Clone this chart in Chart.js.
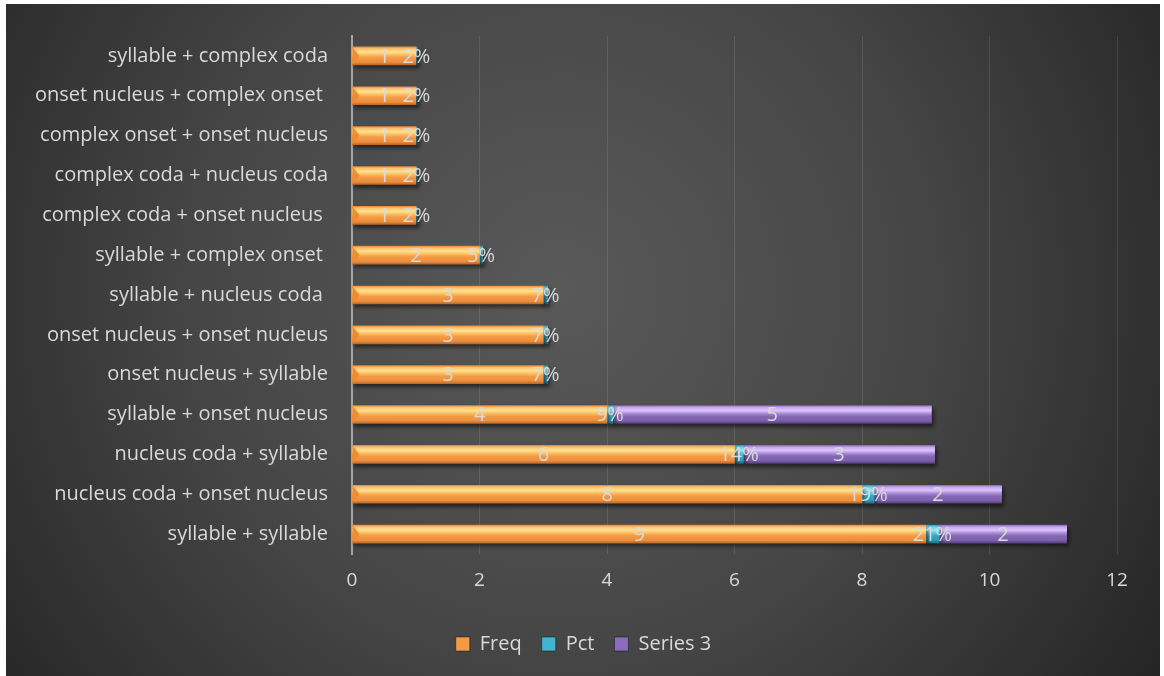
<!DOCTYPE html>
<html>
<head>
<meta charset="utf-8">
<script src="https://cdn.jsdelivr.net/npm/chart.js@4.4.1/dist/chart.umd.min.js"></script>
<style>
  html, body { margin: 0; padding: 0; background: #ffffff; }
  canvas { display: block; }
</style>
</head>
<body>
<canvas id="chart" width="1164" height="676"></canvas>
<script>
// data, top row first
const categories = [
  "syllable + complex coda",
  "onset nucleus + complex onset ",
  "complex onset + onset nucleus",
  "complex coda + nucleus coda",
  "complex coda + onset nucleus ",
  "syllable + complex onset ",
  "syllable + nucleus coda ",
  "onset nucleus + onset nucleus",
  "onset nucleus + syllable",
  "syllable + onset nucleus",
  "nucleus coda + syllable",
  "nucleus coda + onset nucleus",
  "syllable + syllable"
];
const freq = [1, 1, 1, 1, 1, 2, 3, 3, 3, 4, 6, 8, 9];
const pct = [0.02, 0.02, 0.02, 0.02, 0.02, 0.05, 0.07, 0.07, 0.07, 0.09, 0.14, 0.19, 0.21];
const series3 = [null, null, null, null, null, null, null, null, null, 5, 3, 2, 2];
const xTicks = [0, 2, 4, 6, 8, 10, 12];

const FONT = '"Open Sans", Lato, sans-serif';
const TEXT = "#d9d9d9";
const BAR_H = 18;

Chart.defaults.font.family = FONT;
Chart.defaults.color = TEXT;

// vertical gradient for the bevelled look of each bar
function bevel(stops) {
  return function (context) {
    const chart = context.chart;
    const y = chart.scales.y;
    if (!y || !chart.chartArea || context.dataIndex === undefined) return stops[2][1];
    const yc = y.getPixelForValue(context.dataIndex);
    const g = chart.ctx.createLinearGradient(0, yc - BAR_H / 2, 0, yc + BAR_H / 2);
    stops.forEach(s => g.addColorStop(s[0], s[1]));
    return g;
  };
}

const orange = bevel([[0, "#e98a3c"], [0.1, "#fcc070"], [0.28, "#ffe38e"], [0.45, "#fbbb62"], [0.6, "#f39a44"], [0.85, "#ec8e3c"], [1, "#b8682a"]]);
const cyan = bevel([[0, "#2f9cb8"], [0.1, "#6fd0e6"], [0.28, "#9ae6f4"], [0.45, "#58c4dc"], [0.6, "#33a9c6"], [0.85, "#2a9ab6"], [1, "#1d6d82"]]);
const purple = bevel([[0, "#8a6cb8"], [0.1, "#c4a6ee"], [0.28, "#dcc4fa"], [0.45, "#a98ad6"], [0.6, "#8567b4"], [0.85, "#7c5fab"], [1, "#54407a"]]);

const bgPlugin = {
  id: "bg",
  beforeDraw(chart) {
    const ctx = chart.ctx;
    ctx.save();
    const g = ctx.createRadialGradient(560, 290, 0, 560, 290, 720);
    g.addColorStop(0, "#595959");
    g.addColorStop(0.5, "#464646");
    g.addColorStop(1, "#242424");
    ctx.fillStyle = g;
    ctx.fillRect(6, 4, 1154, 672);
    ctx.restore();
  },
  afterLayout(chart) {
    // legend is centred on the whole picture, not on the padded box
    const lg = chart.legend;
    if (lg) { lg.left += 22; lg.right += 22; }
  }
};

const shadowPlugin = {
  id: "shadow",
  beforeDatasetsDraw(chart) {
    const ctx = chart.ctx;
    ctx.save();
    ctx.shadowColor = "rgba(0,0,0,0.55)";
    ctx.shadowBlur = 4;
    ctx.shadowOffsetX = 2;
    ctx.shadowOffsetY = 3;
  },
  afterDatasetsDraw(chart) {
    chart.ctx.restore();
  }
};

const labelPlugin = {
  id: "barLabels",
  afterDatasetsDraw(chart) {
    const ctx = chart.ctx;
    ctx.save();
    // left bevel facet of the first segment
    chart.getDatasetMeta(0).data.forEach(el => {
      ctx.fillStyle = "#f28a2e";
      ctx.beginPath();
      ctx.moveTo(el.base, el.y - BAR_H / 2);
      ctx.lineTo(el.base + 7, el.y);
      ctx.lineTo(el.base, el.y + BAR_H / 2);
      ctx.closePath();
      ctx.fill();
    });
    ctx.font = "20px " + FONT;
    ctx.fillStyle = TEXT;
    ctx.textAlign = "center";
    ctx.textBaseline = "middle";
    chart.data.datasets.forEach((ds, i) => {
      chart.getDatasetMeta(i).data.forEach((el, j) => {
        const v = ds.data[j];
        if (v === null || v === undefined) return;
        const txt = i === 1 ? Math.round(v * 100) + "%" : String(v);
        ctx.fillText(txt, (el.x + el.base) / 2, el.y + 1);
      });
    });
    ctx.restore();
  }
};

const swatches = ["#f39a44", "#3fb5d0", "#8a6cb8"];

new Chart(document.getElementById("chart"), {
  type: "bar",
  data: {
    labels: categories,
    datasets: [
      { label: "Freq", data: freq, backgroundColor: orange },
      { label: "Pct", data: pct, backgroundColor: cyan },
      { label: "Series 3", data: series3, backgroundColor: purple }
    ]
  },
  options: {
    indexAxis: "y",
    responsive: false,
    animation: false,
    devicePixelRatio: 1,
    barThickness: BAR_H,
    layout: { padding: { left: 6, top: 35, right: 47, bottom: 12 } },
    scales: {
      x: {
        stacked: true,
        min: 0,
        max: 12,
        afterBuildTicks(scale) { scale.ticks = xTicks.map(v => ({ value: v })); },
        afterFit(scale) { scale.height = 60; },
        ticks: { color: TEXT, font: { size: 19 }, padding: 15 },
        grid: { color: "rgba(255,255,255,0.11)", lineWidth: 1, drawTicks: false },
        border: { display: false }
      },
      y: {
        stacked: true,
        afterFit(scale) { scale.width = 346; },
        ticks: { color: TEXT, font: { size: 20 }, padding: 24 },
        grid: { display: false, drawTicks: false },
        border: { display: true, color: "#a6a6a6", width: 2 }
      }
    },
    plugins: {
      legend: {
        position: "bottom",
        labels: {
          color: TEXT,
          font: { size: 20 },
          boxWidth: 14,
          boxHeight: 14,
          padding: 20,
          generateLabels(chart) {
            return chart.data.datasets.map((ds, i) => ({
              text: ds.label,
              fillStyle: swatches[i],
              strokeStyle: "rgba(0,0,0,0.4)",
              lineWidth: 1,
              fontColor: TEXT,
              datasetIndex: i,
              hidden: false
            }));
          }
        }
      },
      tooltip: { enabled: false }
    }
  },
  plugins: [bgPlugin, shadowPlugin, labelPlugin]
});
</script>
</body>
</html>
